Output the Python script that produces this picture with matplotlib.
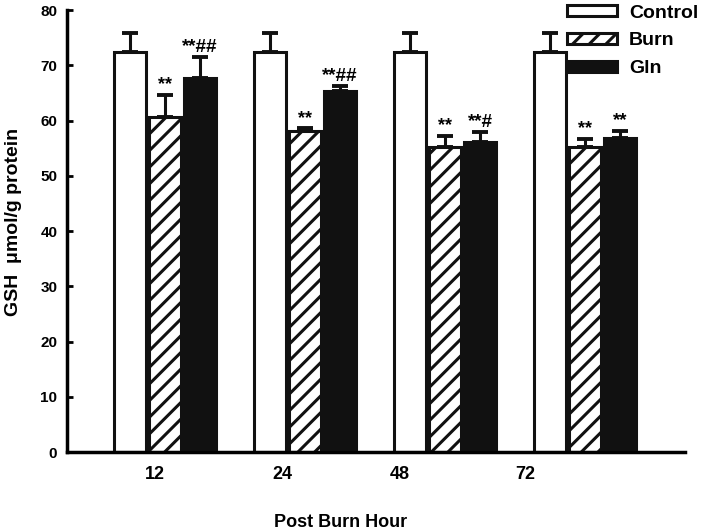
import matplotlib
matplotlib.use("Agg")
import matplotlib.pyplot as plt
import numpy as np

hours = ["12", "24", "48", "72"]
series = ["Control", "Burn", "Gln"]

control_mean = [72.4, 72.4, 72.4, 72.4]
control_sd = [3.4, 3.4, 3.4, 3.4]
burn_mean = [60.7, 58.1, 55.2, 55.3]
burn_sd = [4.0, 0.5, 2.1, 1.4]
gln_mean = [67.7, 65.4, 56.2, 56.8]
gln_sd = [3.8, 0.8, 1.7, 1.4]

burn_sig = ["**", "**", "**", "**"]
gln_sig = ["**##", "**##", "**#", "**"]

plt.rcParams["font.family"] = ["Liberation Sans", "DejaVu Sans"]
plt.rcParams["font.weight"] = "bold"
plt.rcParams["hatch.linewidth"] = 2.2

fig = plt.figure(figsize=(7.08, 5.32), dpi=100)
ax = fig.add_axes([0.0946, 0.150, 0.873, 0.831])

x = np.arange(len(hours))
width = 0.225
offset = 0.25
styles = [
    dict(facecolor="white", hatch=None),
    dict(facecolor="white", hatch="//"),
    dict(facecolor="#111111", hatch=None),
]
means = [control_mean, burn_mean, gln_mean]
sds = [control_sd, burn_sd, gln_sd]

for i, (name, m, s, st) in enumerate(zip(series, means, sds, styles)):
    pos = x + (i - 1) * offset
    ax.bar(pos, m, width, label=name, edgecolor="#111111", linewidth=2.2,
           zorder=2, **st)
    ax.errorbar(pos, m, yerr=[np.zeros(len(s)), s], fmt="none",
                ecolor="#111111", elinewidth=2.2, capsize=6, capthick=2.8,
                zorder=1)

for i in range(len(hours)):
    ax.annotate(burn_sig[i], (x[i], burn_mean[i] + burn_sd[i]),
                xytext=(0, 4), textcoords="offset points",
                ha="center", va="baseline", fontsize=13, fontweight="bold")
    ax.annotate(gln_sig[i], (x[i] + offset, gln_mean[i] + gln_sd[i]),
                xytext=(0, 4), textcoords="offset points",
                ha="center", va="baseline", fontsize=13.5, fontweight="bold")

ax.set_xlim(-0.7, 3.714)
ax.set_ylim(0, 80)
ax.set_yticks(np.arange(0, 81, 10))

# tick labels in the original sit a bit left of the groups
label_shift = [-0.07, -0.16, -0.32, -0.43]
ax.set_xticks(x + np.array(label_shift))
ax.set_xticklabels(hours, fontsize=13, fontweight="bold")
ax.tick_params(axis="x", length=0, pad=10)
ax.tick_params(axis="y", direction="in", length=4, width=2, labelsize=11, pad=7)
for lab in ax.get_yticklabels():
    lab.set_fontweight("bold")

for side in ("top", "right"):
    ax.spines[side].set_visible(False)
for side in ("left", "bottom"):
    ax.spines[side].set_linewidth(2.5)

ax.set_ylabel("GSH  \u03bcmol/g protein", fontsize=14, fontweight="bold")
ax.yaxis.set_label_coords(-0.087, 0.52)
ax.yaxis.label.set_va("center")
ax.set_xlabel("Post Burn Hour", fontsize=13, fontweight="bold")
ax.xaxis.set_label_coords(0.443, -0.158)
ax.xaxis.label.set_va("center")

leg = ax.legend(loc="upper right", bbox_to_anchor=(0.997, 1.006),
                bbox_transform=fig.transFigure, frameon=False,
                fontsize=14, handlelength=2.6, handleheight=0.5,
                labelspacing=0.55, handletextpad=0.6, borderaxespad=0.0)
for t in leg.get_texts():
    t.set_fontweight("bold")

fig.savefig("out.png", dpi=100)
